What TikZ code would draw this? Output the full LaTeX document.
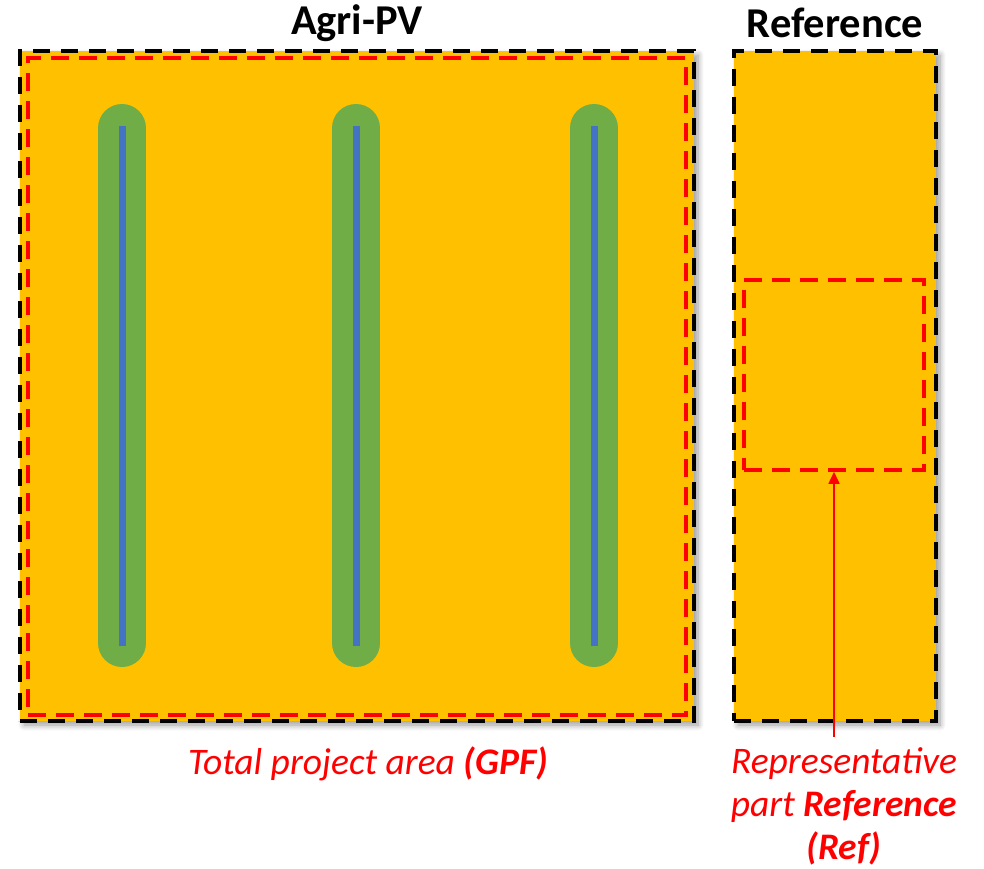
\documentclass[tikz,border=0pt]{standalone}
\usepackage{fontspec}
\setmainfont{Carlito}
\usepackage{tikz}
\usetikzlibrary{calc, positioning, arrows.meta, shadows.blur}
\definecolor{apfield}{HTML}{FFC000}
\definecolor{aprow}{HTML}{70AD47}
\definecolor{appanel}{HTML}{4472C4}
\definecolor{apred}{HTML}{FF0000}
\tikzset{
  >={Triangle[length=12pt, width=11pt]},
  ap field/.style={draw=black, fill=apfield, line width=4pt,
    dash pattern=on 17pt off 11pt, inner sep=0pt, anchor=center,
    blur shadow={shadow xshift=4pt, shadow yshift=-4pt, shadow blur steps=8,
      shadow blur radius=6pt, shadow opacity=40}},
  ap area/.style={draw=apred, line width=3.5pt, dash pattern=on 18pt off 10pt,
    inner sep=0pt, anchor=center},
  ap row/.style={draw=aprow, line width=48pt, line cap=round},
  ap panel/.style={draw=appanel, line width=7pt},
  ap title/.style={font=\fontsize{42.5}{50}\selectfont\bfseries, text=black},
  ap note/.style={font=\fontsize{37.5}{43}\selectfont\itshape, text=apred,
    align=center},
  ap arrow/.style={draw=apred, ->, line width=1.5pt},
}

\begin{document}
\begin{tikzpicture}[x=1pt, y=-1pt]
 \useasboundingbox (0,0) rectangle (984,869);
 % both fields
 \node[ap field, minimum width=674pt, minimum height=670pt] (agri) at (357,386) {};
 \node[ap field, minimum width=202pt, minimum height=670pt] (ref) at (835,386) {};
 % module rows
 \foreach \x in {122,356,594} {
   \draw[ap row] (\x,128) -- (\x,643);
   \draw[ap panel] (\x,126) -- (\x,646);
 }
 % evaluated areas
 \node[ap area, minimum width=658pt, minimum height=657pt] (gpf) at (357,386.5) {};
 \node[ap area, minimum width=180pt, minimum height=190pt] (refpart) at (834,375) {};
 % labels
 \node[ap title] (agrititle) at (357,23) {Agri-PV};
 \node[ap title] (reftitle) at (835,23) {Reference};
 \node[ap note] (gpfnote) at (368,764) {Total project area \textbf{(GPF)}};
 \node[ap note] (refnote) at (844,806)
   {Representative\\part \textbf{Reference}\\\textbf{(Ref)}};
 \coordinate (reftail) at (834,737);
 \draw[ap arrow] (reftail) -- (refpart.south);
\end{tikzpicture}
\end{document}
